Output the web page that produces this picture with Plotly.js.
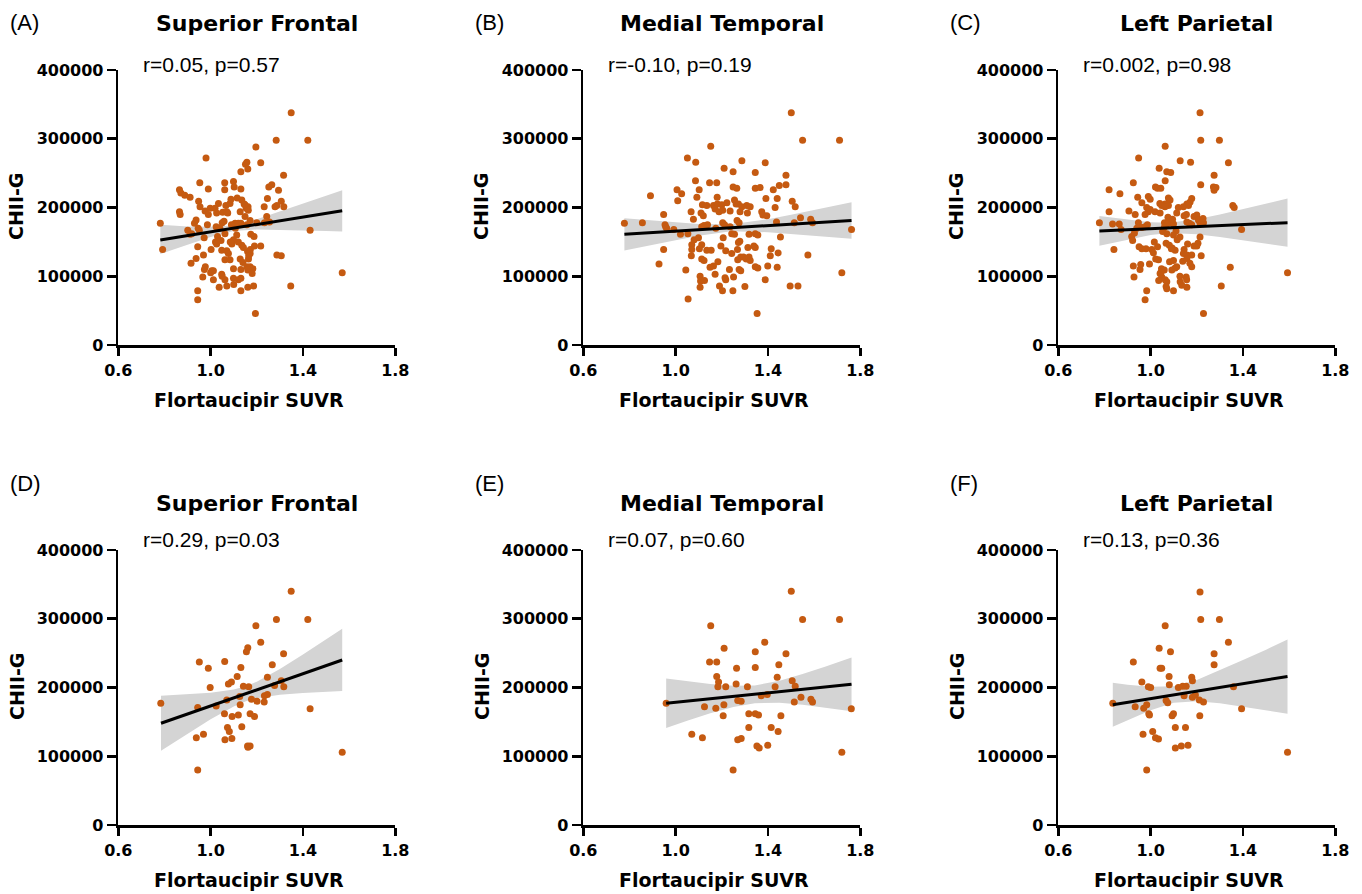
<!DOCTYPE html>
<html><head><meta charset="utf-8">
<script src="https://cdn.plot.ly/plotly-3.0.1.min.js"></script>
<style>html,body{margin:0;padding:0;background:#fff}#chart{width:1362px;height:894px}</style>
</head><body><div id="chart"></div>
<script>
// ---------- Panel A: Superior Frontal (all) ----------
const aX = [1.349,1.284,1.421,1.196,0.980,1.217,1.157,1.151,1.131,1.161,1.316,0.953,1.061,1.099,1.252,1.265,0.865,0.871,0.990,1.061,1.102,1.131,1.294,0.888,0.911,0.948,1.034,1.115,1.135,1.145,1.246,1.306,0.954,1.066,1.084,1.154,1.162,1.232,1.279,1.287,1.317,0.865,0.868,0.976,0.998,0.990,1.019,1.026,1.052,1.074,1.128,1.149,0.937,1.058,1.106,1.131,1.171,1.200,1.233,1.243,1.255,0.782,0.986,0.946,1.024,1.107,1.157,0.901,0.911,0.918,0.951,1.431,1.062,1.113,1.174,1.188,0.972,1.021,1.026,1.099,1.092,1.135,1.142,1.190,1.217,0.944,0.792,1.002,1.048,1.070,1.077,1.160,1.171,0.969,1.287,1.306,0.937,1.062,1.084,1.128,1.164,0.915,0.977,0.973,1.005,1.012,1.099,1.131,1.157,1.171,1.183,1.161,1.048,0.966,1.570,1.012,1.062,1.099,1.120,1.131,1.037,1.070,1.131,1.161,1.186,1.347,0.944,0.944,1.194,1.149,1.163,1.070,1.088,0.930,1.050,1.040,1.090,1.120,1.030,1.045,1.085,1.120,1.165,1.172,1.000,1.050,1.100,1.140,1.180];
const aY = [338000,298000,298000,288000,272000,265000,266000,263000,252000,256000,247000,236000,236000,238000,230000,233000,226000,221000,227000,226000,230000,227000,225000,218000,215000,209000,206000,214000,211000,205000,213000,209000,201000,203000,206000,199000,201000,201000,201000,203000,201000,194000,190000,195000,199000,190000,199000,192000,193000,192000,194000,187000,182000,180000,177000,177000,181000,178000,178000,187000,179000,177000,175000,170000,172000,170000,175000,167000,161000,162000,167000,167000,162000,160000,161000,158000,156000,150000,147000,153000,147000,145000,142000,144000,144000,143000,139000,139000,138000,137000,133000,136000,133000,131000,131000,130000,126000,124000,124000,125000,125000,119000,114000,110000,108000,108000,111000,110000,114000,114000,111000,109000,103000,99000,105000,95000,95000,97000,95000,97000,84000,86000,79000,84000,86000,86000,79000,66000,46000,204000,196000,194000,212000,177000,178000,170000,175000,177000,158000,152000,150000,150000,130000,139000,105000,100000,88000,120000,104000];
const aFitX = [0.782, 1.570];
const aFitY = [152700, 195400];
const aBandX = [0.782, 0.9, 1.0, 1.1, 1.2, 1.3, 1.4, 1.5, 1.570];
const aBandHi = [175000, 172500, 172000, 174000, 183000, 194000, 206000, 217000, 225000];
const aBandLo = [132500, 146000, 157000, 166000, 168000, 168000, 167000, 166000, 165000];

// ---------- Panel B: Medial Temporal (all) ----------
const bX = [1.501,1.550,1.710,1.152,1.051,1.087,1.287,1.388,1.210,1.249,1.345,1.478,1.086,1.147,1.178,1.249,1.265,1.345,1.366,1.449,1.478,1.423,1.006,1.026,1.102,0.891,1.092,1.009,1.180,1.255,1.262,1.391,1.440,1.505,1.518,1.431,1.116,1.135,1.164,1.181,1.200,1.171,1.188,1.222,1.272,1.287,1.308,1.323,1.067,0.948,1.110,1.120,1.204,1.236,1.279,1.311,1.373,1.378,1.395,1.077,0.778,0.856,0.954,0.957,0.961,0.992,1.113,1.123,1.138,1.174,1.204,1.212,1.236,1.266,1.275,1.437,1.514,1.541,1.585,1.593,1.762,1.021,1.053,1.206,1.243,1.255,1.278,1.272,1.318,1.345,1.356,1.454,1.080,1.070,1.099,1.113,1.313,1.339,1.345,1.414,0.948,1.070,1.103,1.135,1.154,1.196,1.217,1.243,1.268,1.068,1.113,1.123,1.269,1.282,1.294,1.306,1.318,1.323,1.410,1.444,1.573,0.928,1.183,1.164,1.149,1.233,1.275,1.282,1.345,1.356,1.399,1.440,1.044,1.720,1.106,1.108,1.125,1.171,1.214,1.217,1.251,1.388,1.106,1.190,1.203,1.248,1.300,1.496,1.530,1.054,1.353];
const bY = [338000,298000,298000,289000,272000,266000,268000,265000,257000,252000,251000,247000,239000,236000,236000,230000,228000,228000,229000,232000,233000,226000,226000,220000,226000,217000,215000,210000,215000,211000,205000,213000,213000,209000,201000,200000,204000,203000,203000,205000,204000,198000,194000,207000,205000,201000,203000,201000,194000,190000,192000,188000,196000,195000,194000,192000,194000,189000,188000,183000,177000,178000,175000,172000,170000,168000,172000,174000,175000,170000,178000,175000,172000,181000,178000,179000,178000,185000,183000,178000,168000,161000,162000,156000,162000,161000,151000,149000,161000,162000,160000,157000,153000,146000,156000,146000,142000,144000,142000,140000,139000,139000,140000,138000,138000,144000,137000,133000,139000,130000,125000,123000,124000,128000,128000,125000,128000,123000,130000,134000,131000,118000,121000,115000,113000,110000,110000,108000,114000,112000,115000,113000,109000,105000,100000,93000,94000,103000,98000,95000,99000,95000,84000,86000,79000,79000,85000,86000,86000,67000,46000];
const bFitX = [0.778, 1.762];
const bFitY = [161000, 181000];
const bBandX = [0.778, 0.9, 1.0, 1.1, 1.24, 1.4, 1.5, 1.6, 1.762];
const bBandHi = [184500, 181000, 178500, 176000, 175500, 183000, 189500, 196500, 207500];
const bBandLo = [137500, 146000, 152500, 159000, 165500, 164000, 162000, 159000, 154500];

// ---------- Panel C: Left Parietal (all) ----------
const cX = [1.214,1.217,1.298,1.063,0.948,1.128,1.173,1.337,1.037,1.070,1.087,1.063,0.925,1.217,1.275,1.021,1.030,1.044,1.272,1.283,1.275,0.820,0.867,0.944,0.990,0.998,1.077,1.084,0.962,1.040,1.063,1.077,1.178,1.171,1.157,1.164,1.142,1.120,1.356,1.362,0.820,0.906,0.983,0.990,0.998,1.019,1.041,0.933,0.976,1.113,1.145,1.188,1.200,0.778,0.835,0.864,0.872,0.947,0.986,0.976,0.962,0.940,1.060,1.067,1.077,1.092,1.099,1.059,1.052,1.070,1.110,1.099,1.157,1.168,1.178,1.207,1.214,1.229,1.394,0.918,0.922,1.016,0.962,0.950,0.980,1.005,1.012,0.841,1.067,1.081,1.093,1.106,1.145,1.142,1.157,1.178,1.188,1.200,1.214,1.219,1.022,1.034,1.082,1.099,1.139,1.157,1.178,0.995,0.925,0.954,1.047,1.059,1.092,1.106,1.113,1.345,0.928,1.041,1.048,1.035,1.063,1.070,1.154,1.128,1.135,1.157,1.067,1.070,1.099,1.593,1.306,0.983,0.976,1.229,1.048,1.062,1.075,1.095,1.155,1.227,0.930,1.115,1.127,1.030,1.090,1.160,1.205,1.170,1.127,1.156,0.957,1.045];
const cY = [338000,298000,298000,289000,272000,268000,266000,265000,257000,252000,251000,239000,236000,233000,247000,230000,228000,228000,230000,229000,225000,226000,220000,215000,216000,212000,214000,211000,207000,206000,205000,203000,213000,208000,205000,203000,201000,200000,203000,200000,194000,195000,200000,194000,197000,194000,192000,190000,190000,192000,188000,187000,189000,178000,176000,176000,168000,178000,175000,172000,171000,170000,178000,175000,177000,179000,176000,171000,165000,162000,166000,160000,179000,177000,175000,182000,177000,178000,168000,158000,152000,150000,140000,143000,140000,139000,134000,139000,148000,145000,141000,138000,139000,133000,131000,131000,144000,144000,157000,130000,125000,124000,121000,123000,122000,126000,114000,118000,115000,110000,111000,109000,109000,112000,114000,113000,99000,104000,99000,94000,95000,92000,99000,92000,87000,84000,85000,82000,79000,105000,86000,79000,66000,46000,203000,201000,186000,183000,190000,184000,163000,153000,157000,143000,140000,147000,148000,119000,100000,95000,117000,106000];
const cFitX = [0.778, 1.593];
const cFitY = [166000, 178000];
const cBandX = [0.778, 0.9, 1.0, 1.08, 1.2, 1.3, 1.4, 1.5, 1.593];
const cBandHi = [187500, 182000, 178500, 178000, 183000, 190000, 198000, 205500, 213000];
const cBandLo = [144500, 153500, 160000, 163000, 161000, 157000, 152500, 147500, 143000];

// ---------- Panel D: Superior Frontal (subgroup) ----------
const dX = [1.349,1.285,1.421,1.196,1.217,1.161,1.155,1.316,0.951,1.061,1.267,0.990,1.131,1.115,1.246,1.090,1.077,1.306,0.998,1.142,1.165,1.277,1.317,1.126,1.233,1.246,1.070,1.177,1.201,1.232,0.784,0.944,1.024,1.128,1.431,1.060,1.120,1.093,1.171,1.190,1.135,1.073,1.081,0.938,0.969,1.062,1.092,1.160,1.171,1.162,1.570,0.944];
const dY = [340000,299000,299000,290000,266000,258000,252000,249000,237000,238000,233000,228000,229000,216000,215000,208000,205000,210000,200000,202000,201000,203000,201000,187000,188000,190000,182000,183000,180000,179000,177000,171000,173000,175000,169000,162000,160000,158000,162000,158000,143000,142000,136000,127000,132000,124000,126000,115000,115000,113000,106000,80000];
const dFitX = [0.785, 1.570];
const dFitY = [148000, 240000];
const dBandX = [0.785, 0.9, 1.0, 1.1, 1.153, 1.2, 1.3, 1.4, 1.5, 1.570];
const dBandHi = [188000, 190000, 192500, 197000, 202000, 208500, 227000, 248000, 269500, 285500];
const dBandLo = [108000, 133000, 154000, 172500, 180000, 184500, 189500, 192000, 194000, 195000];

// ---------- Panel E: Medial Temporal (subgroup) ----------
const eX = [1.501,1.550,1.710,1.152,1.386,1.210,1.345,1.478,1.147,1.178,1.264,1.345,1.447,1.178,1.186,1.183,1.217,1.262,1.311,1.440,1.431,1.505,1.518,1.371,1.397,0.959,1.125,1.174,1.209,1.269,1.284,1.514,1.543,1.586,1.593,1.761,1.206,1.317,1.345,1.359,1.456,1.317,1.414,1.444,1.070,1.116,1.269,1.284,1.352,1.362,1.399,1.720,1.249];
const eY = [340000,299000,299000,290000,266000,257000,252000,249000,237000,237000,228000,229000,233000,216000,208000,201000,201000,205000,201000,215000,201000,210000,202000,188000,190000,177000,172000,170000,175000,181000,180000,179000,186000,183000,179000,169000,159000,162000,162000,160000,159000,142000,142000,136000,132000,127000,124000,126000,115000,112000,116000,106000,80000];
const eFitX = [0.959, 1.762];
const eFitY = [177000, 204600];
const eBandX = [0.959, 1.05, 1.15, 1.25, 1.343, 1.45, 1.55, 1.65, 1.762];
const eBandHi = [213000, 209000, 205000, 202500, 203000, 210000, 219500, 230500, 243500];
const eBandLo = [141000, 151500, 162500, 171500, 177000, 178000, 175000, 171000, 165500];

// ---------- Panel F: Left Parietal (subgroup) ----------
const fX = [1.214,1.217,1.298,1.063,1.337,1.037,1.086,1.275,0.925,1.041,1.048,1.275,1.080,1.178,1.181,0.962,1.081,0.990,1.000,1.120,1.139,1.154,1.359,1.145,1.181,1.194,0.836,0.933,0.970,0.983,1.067,1.074,1.211,1.229,1.394,0.992,0.995,1.093,1.099,1.213,1.107,1.151,0.967,1.009,1.021,1.034,1.107,1.133,1.162,1.593,0.983];
const fY = [339000,299000,299000,290000,266000,257000,252000,249000,237000,228000,228000,233000,216000,215000,210000,208000,204000,201000,200000,200000,202000,202000,201000,188000,186000,189000,177000,172000,170000,175000,181000,178000,182000,179000,169000,162000,160000,159000,162000,159000,142000,142000,132000,136000,127000,125000,112000,115000,116000,106000,80000];
const fFitX = [0.836, 1.593];
const fFitY = [175000, 216000];
const fBandX = [0.836, 0.9, 1.0, 1.1, 1.2, 1.3, 1.4, 1.5, 1.593];
const fBandHi = [207000, 204000, 201000, 202000, 211000, 225000, 240000, 255000, 270000];
const fBandLo = [143000, 153000, 167000, 178000, 180000, 177000, 172000, 167000, 162000];

// ---------- Labels ----------
const panelLetters = ['(A)', '(B)', '(C)', '(D)', '(E)', '(F)'];
const panelTitles = ['Superior Frontal', 'Medial Temporal', 'Left Parietal', 'Superior Frontal', 'Medial Temporal', 'Left Parietal'];
const panelStats = ['r=0.05, p=0.57', 'r=-0.10, p=0.19', 'r=0.002, p=0.98', 'r=0.29, p=0.03', 'r=0.07, p=0.60', 'r=0.13, p=0.36'];
const xTickVals = [0.6, 1.0, 1.4, 1.8];
const xTickText = ['0.6', '1.0', '1.4', '1.8'];
const yTickVals = [0, 100000, 200000, 300000, 400000];
const yTickText = ['0', '100000', '200000', '300000', '400000'];
const xTitle = 'Flortaucipir SUVR';
const yTitle = 'CHII-G';

// ---------- Layout geometry (pixels) ----------
const W = 1362, H = 894;
const colLeft = [118.3, 583.3, 1058.3];
const plotW = 277;
const rowTop = [70, 550];
const rowBot = [345, 825];
const letterY = [22.5, 484];
const titleY = [23.5, 503.5];
const statY = [65, 539];
const xTitleY = [400, 880];

const px = v => v / W;
const py = v => 1 - v / H;

const panels = [
  {x: aX, y: aY, fx: aFitX, fy: aFitY, bx: aBandX, hi: aBandHi, lo: aBandLo},
  {x: bX, y: bY, fx: bFitX, fy: bFitY, bx: bBandX, hi: bBandHi, lo: bBandLo},
  {x: cX, y: cY, fx: cFitX, fy: cFitY, bx: cBandX, hi: cBandHi, lo: cBandLo},
  {x: dX, y: dY, fx: dFitX, fy: dFitY, bx: dBandX, hi: dBandHi, lo: dBandLo},
  {x: eX, y: eY, fx: eFitX, fy: eFitY, bx: eBandX, hi: eBandHi, lo: eBandLo},
  {x: fX, y: fY, fx: fFitX, fy: fFitY, bx: fBandX, hi: fBandHi, lo: fBandLo}
];

const boldFont = 'DejaVu Sans, Arial, sans-serif';
const regFont = 'Liberation Sans, Arial, sans-serif';
const traces = [];
const annotations = [];
const layout = {
  width: W, height: H,
  margin: {l: 0, r: 0, t: 0, b: 0},
  paper_bgcolor: '#fff', plot_bgcolor: 'rgba(0,0,0,0)',
  showlegend: false,
  annotations: annotations
};

panels.forEach((p, i) => {
  const n = i + 1;
  const sfx = n === 1 ? '' : String(n);
  const col = i % 3, row = Math.floor(i / 3);
  const L = colLeft[col];
  const dx = L - colLeft[0];
  const xr = 'x' + sfx, yr = 'y' + sfx;

  traces.push({
    type: 'scatter', mode: 'lines', xaxis: xr, yaxis: yr,
    x: p.bx.concat(p.bx.slice().reverse()),
    y: p.hi.concat(p.lo.slice().reverse()),
    fill: 'toself', fillcolor: '#D4D4D4', line: {width: 0, color: 'rgba(0,0,0,0)'},
    hoverinfo: 'skip'
  });
  traces.push({
    type: 'scatter', mode: 'markers', xaxis: xr, yaxis: yr,
    x: p.x, y: p.y,
    marker: {color: '#C55A11', size: 7}
  });
  traces.push({
    type: 'scatter', mode: 'lines', xaxis: xr, yaxis: yr,
    x: p.fx, y: p.fy, line: {color: '#000', width: 3}
  });

  layout['xaxis' + sfx] = {
    domain: [px(L), px(L + plotW)], range: [0.6, 1.8], anchor: yr,
    tickmode: 'array', tickvals: xTickVals, ticktext: xTickText,
    showline: true, linecolor: '#000', linewidth: 2.6,
    ticks: 'outside', ticklen: 8, tickwidth: 2.6, tickcolor: '#000',
    tickfont: {family: boldFont, size: 16, color: '#000', weight: 'bold'},
    ticklabelstandoff: 1,
    showgrid: false, zeroline: false, fixedrange: true
  };
  layout['yaxis' + sfx] = {
    domain: [py(rowBot[row]), py(rowTop[row])], range: [0, 400000], anchor: xr,
    tickmode: 'array', tickvals: yTickVals, ticktext: yTickText,
    showline: true, linecolor: '#000', linewidth: 2.6,
    ticks: 'outside', ticklen: 9, tickwidth: 2.6, tickcolor: '#000',
    tickfont: {family: boldFont, size: 16, color: '#000', weight: 'bold'},
    showgrid: false, zeroline: false, fixedrange: true
  };

  annotations.push({
    xref: 'paper', yref: 'paper', x: px(8 + dx), y: py(letterY[row]),
    xanchor: 'left', yanchor: 'middle', showarrow: false,
    text: panelLetters[i], font: {family: regFont, size: 22, color: '#000'}
  });
  annotations.push({
    xref: 'paper', yref: 'paper', x: px(L + plotW / 2), y: py(titleY[row]),
    xanchor: 'center', yanchor: 'middle', showarrow: false,
    text: panelTitles[i], font: {family: boldFont, size: 22, color: '#000', weight: 'bold'}
  });
  annotations.push({
    xref: 'paper', yref: 'paper', x: px(141 + dx), y: py(statY[row]),
    xanchor: 'left', yanchor: 'middle', showarrow: false,
    text: panelStats[i], font: {family: regFont, size: 21, color: '#000'}
  });
  annotations.push({
    xref: 'paper', yref: 'paper', x: px(16.5 + dx), y: py((rowTop[row] + rowBot[row]) / 2 - 1),
    xanchor: 'center', yanchor: 'middle', showarrow: false, textangle: -90,
    text: yTitle, font: {family: boldFont, size: 19, color: '#000', weight: 'bold'}
  });
  annotations.push({
    xref: 'paper', yref: 'paper', x: px(249 + dx), y: py(xTitleY[row]),
    xanchor: 'center', yanchor: 'middle', showarrow: false,
    text: xTitle, font: {family: boldFont, size: 19, color: '#000', weight: 'bold'}
  });
});

Plotly.newPlot('chart', traces, layout, {displayModeBar: false, staticPlot: true});
</script></body></html>
